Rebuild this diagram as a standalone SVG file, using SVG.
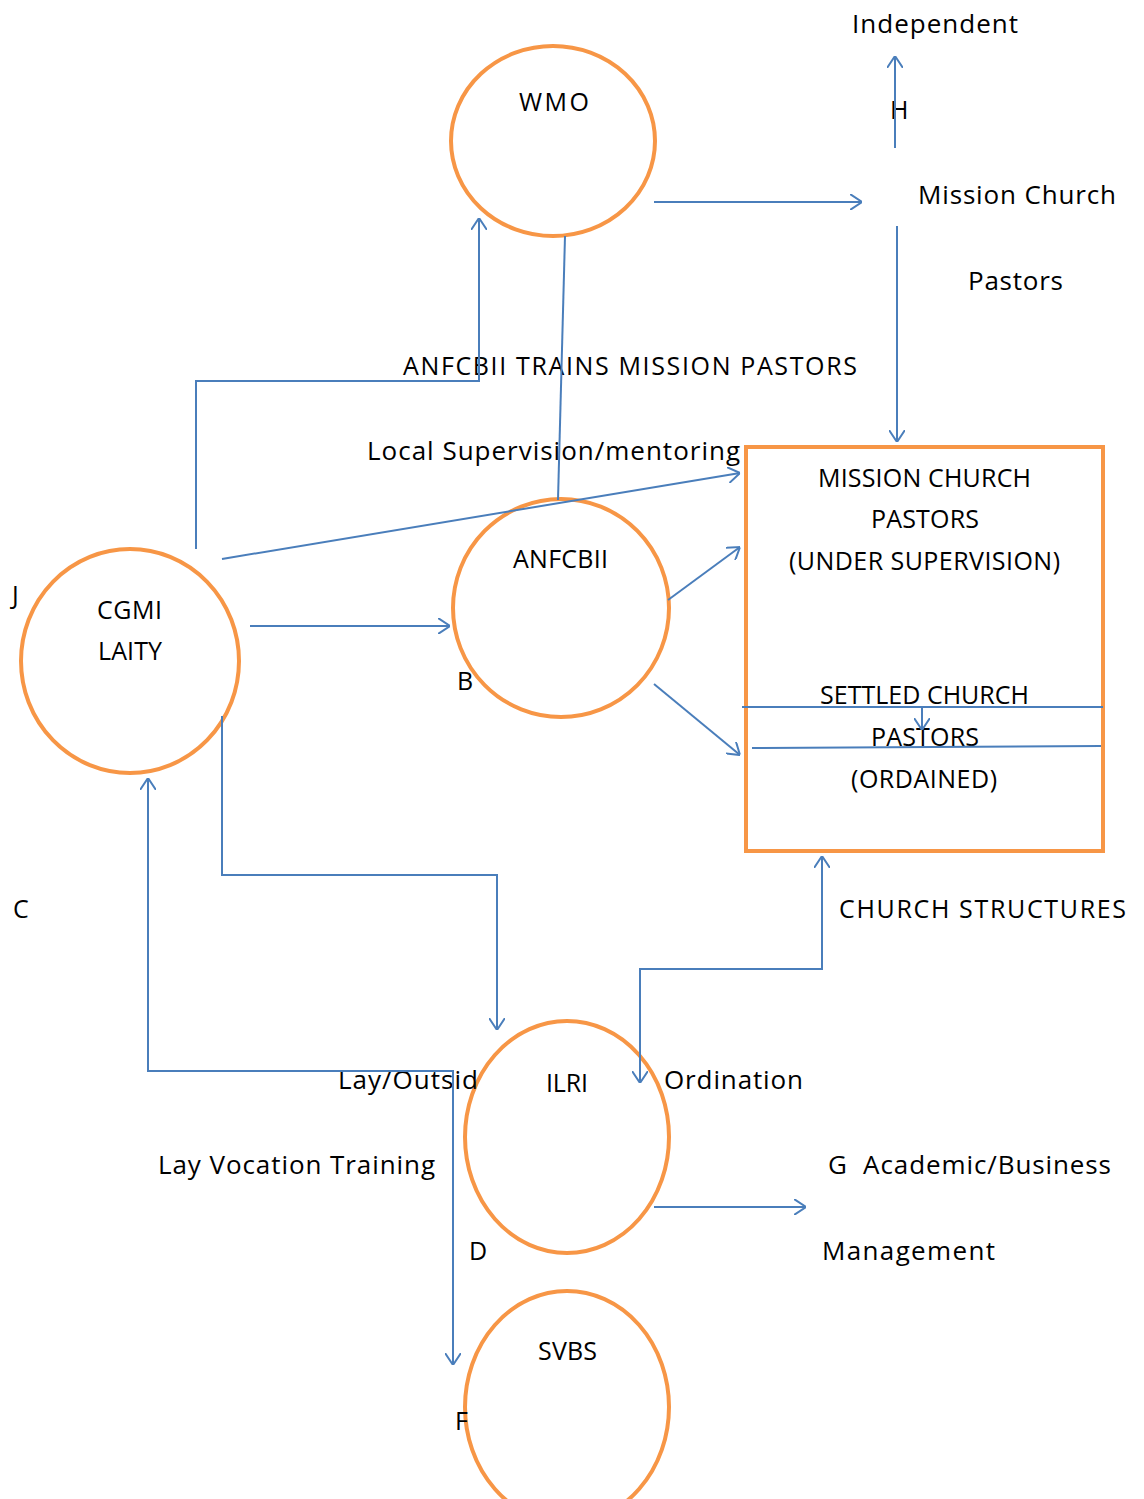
<svg xmlns="http://www.w3.org/2000/svg" width="1144" height="1499" viewBox="0 0 1144 1499">
<style>
.n{fill:none;stroke:#F79646;stroke-width:4}
.c{fill:none;stroke:#4A7EBB;stroke-width:2}
text{font-family:"Open Sans","Liberation Sans",sans-serif;font-size:25px;fill:#000}
text.m{font-size:26px}
</style>
<defs>
<marker id="a" viewBox="0 0 12 16" refX="12" refY="8" markerWidth="12" markerHeight="16" markerUnits="userSpaceOnUse" orient="auto-start-reverse">
<path d="M0,0 L12,8 L0,16" fill="none" stroke="#4A7EBB" stroke-width="2"/>
</marker>
</defs>
<rect width="1144" height="1499" fill="#fff"/>
<g id="wmo"><ellipse class="n" cx="553" cy="141" rx="102" ry="95"/><text x="519" y="111" textLength="70">WMO</text></g>
<g id="anfcbii"><ellipse class="n" cx="561" cy="608" rx="108" ry="109"/><text x="513" y="568" textLength="95">ANFCBII</text></g>
<g id="cgmi"><ellipse class="n" cx="130" cy="661" rx="109" ry="112"/><text x="97" y="619" textLength="65">CGMI</text><text x="98" y="660" textLength="64">LAITY</text></g>
<g id="ilri"><ellipse class="n" cx="567" cy="1137" rx="102" ry="116"/><text x="546" y="1092" textLength="42">ILRI</text></g>
<g id="svbs"><ellipse class="n" cx="567" cy="1407" rx="102" ry="116"/><text x="538" y="1360" textLength="59">SVBS</text></g>
<g id="church"><rect class="n" x="746" y="447" width="357" height="404"/>
<text x="818" y="487" textLength="213">MISSION CHURCH</text>
<text x="871" y="528" textLength="108">PASTORS</text>
<text x="789" y="570" textLength="271">(UNDER SUPERVISION)</text>
<text x="820" y="704" textLength="209">SETTLED CHURCH</text>
<text x="871" y="746" textLength="108">PASTORS</text>
<text x="851" y="788" textLength="146">(ORDAINED)</text>
</g>
<g id="labels">
<text class="m" x="852" y="33" textLength="166">Independent</text>
<text x="890" y="119" textLength="17">H</text>
<text class="m" x="918" y="204" textLength="198">Mission Church</text>
<text class="m" x="968" y="290" textLength="95">Pastors</text>
<text x="403" y="375" textLength="454">ANFCBII TRAINS MISSION PASTORS</text>
<text class="m" x="367" y="460" textLength="373">Local Supervision/mentoring</text>
<text x="12" y="604" textLength="10">J</text>
<text x="457" y="690" textLength="16">B</text>
<text x="13" y="918" textLength="16">C</text>
<text x="839" y="918" textLength="287">CHURCH STRUCTURES</text>
<text class="m" x="338" y="1089" textLength="140">Lay/Outsid</text>
<text class="m" x="664" y="1089" textLength="139">Ordination</text>
<text class="m" x="158" y="1174" textLength="277">Lay Vocation Training</text>
<text class="m" x="828" y="1174" textLength="283" xml:space="preserve">G  Academic/Business</text>
<text x="469" y="1260" textLength="18">D</text>
<text class="m" x="822" y="1260" textLength="173">Management</text>
<text x="455" y="1430" textLength="13">F</text>
</g>
<g id="connectors">
<path class="c" d="M654,202 H862" marker-end="url(#a)"/>
<path class="c" d="M895,148 V56" marker-end="url(#a)"/>
<path class="c" d="M897,226 V442" marker-end="url(#a)"/>
<path class="c" d="M565,236 L558,500"/>
<path class="c" d="M196,549 V381 H479 V218" marker-end="url(#a)"/>
<path class="c" d="M222,559 L740,473" marker-end="url(#a)"/>
<path class="c" d="M250,626 H450" marker-end="url(#a)"/>
<path class="c" d="M668,600 L740,547" marker-end="url(#a)"/>
<path class="c" d="M654,684 L740,755" marker-end="url(#a)"/>
<path class="c" d="M742,707 H1103"/>
<path class="c" d="M752,748 L1101,746"/>
<path class="c" d="M922,707 V730" marker-end="url(#a)"/>
<path class="c" d="M222,716 V875 H497 V1030" marker-end="url(#a)"/>
<path class="c" d="M148,778 V1071 H453 V1365" marker-start="url(#a)" marker-end="url(#a)"/>
<path class="c" d="M822,856 V969 H640 V1083" marker-start="url(#a)" marker-end="url(#a)"/>
<path class="c" d="M654,1207 H806" marker-end="url(#a)"/>
</g>
</svg>
